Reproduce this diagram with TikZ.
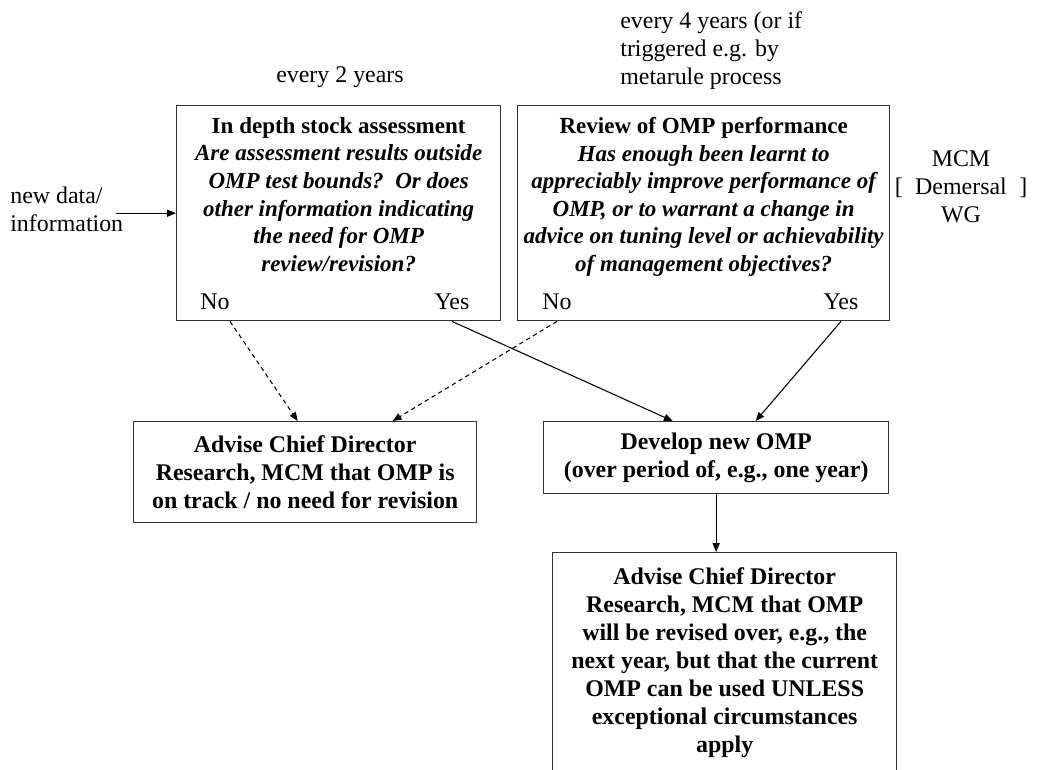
\documentclass[tikz,border=0pt]{standalone}
\usepackage{fontspec}
\setmainfont{Liberation Serif}
\usetikzlibrary{positioning,calc,arrows.meta}

\def\omptext{\fontsize{13.6}{16}\selectfont}
\def\asktext{\fontsize{13.1}{15.7}\selectfont}

\tikzset{
  box/.style={draw=black!80, line width=0.8pt, inner sep=0pt, align=center, font=\omptext\bfseries},
  txt/.style={inner sep=0pt, align=center, font=\omptext},
  ask/.style={inner sep=0pt, align=center, font=\asktext\bfseries\itshape},
  flow/.style={line width=0.6pt, ->},
  noflow/.style={line width=0.6pt, ->, dash pattern=on 2.5pt off 2pt},
  >={Triangle[length=5pt,width=4pt]}
}

\begin{document}
\begin{tikzpicture}[x=0.02cm, y=-0.02cm]

\useasboundingbox (0,0) rectangle (1051,769);
\clip (0,0) rectangle (1051,769);

% LABELS

\node[txt] (twoyears) at (340,77) {every 2 years};
\node[txt, anchor=west, align=left] (fouryears) at (620,51) {every 4 years (or if\\triggered e.g. by\\metarule process};
\node[txt, anchor=west, align=left] (newdata) at (10,209) {new data/\\information};
\node[txt] (mcm) at (961,187) {MCM\\{[}\hspace{0.25cm}Demersal\hspace{0.25cm}{]}\\WG};

% STOCK ASSESSMENT

\node[box, minimum width=6.48cm, minimum height=4.3cm, anchor=north west] (assess) at (176,105) {};
\node[ask, below=0.24cm of assess.north] (assesstxt) {{\upshape In depth stock assessment}\\
  Are assessment results outside\\OMP test bounds?\ \ Or does\\other information indicating\\
  the need for OMP\\review/revision?};
\node[txt] (no1) at (215,302) {No};
\node[txt] (yes1) at (452,302) {Yes};

% OMP REVIEW

\node[box, minimum width=7.44cm, minimum height=4.3cm, anchor=north west] (review) at (517,105) {};
\node[ask, below=0.24cm of review.north] (reviewtxt) {{\upshape Review of OMP performance}\\
  Has enough been learnt to\\appreciably improve performance of\\OMP, or to warrant a change in\\
  advice on tuning level or achievability\\of management objectives?};
\node[txt] (no2) at (557,302) {No};
\node[txt] (yes2) at (841,302) {Yes};

% OUTCOMES

\node[box, minimum width=6.86cm, minimum height=2.02cm, anchor=north west] (ontrack) at (133,421) {Advise Chief Director\\Research, MCM that OMP is\\on track / no need for revision};
\node[box, minimum width=6.9cm, minimum height=1.44cm, anchor=north west] (develop) at (543,421) {Develop new OMP\\(over period of, e.g., one year)};
\node[box, minimum width=6.88cm, minimum height=4.4cm, anchor=north west] (revise) at (552,552) {Advise Chief Director\\Research, MCM that OMP\\will be revised over, e.g., the\\
  next year, but that the current\\OMP can be used UNLESS\\exceptional circumstances\\apply};

% CONNECTORS

\draw[flow] (newdata.east |- assess.west) ++(-0.15cm,0) coordinate (newin) -- (assess.west);
\draw[noflow] (no1.south east |- assess.south) -- ([xshift=-0.15cm]ontrack.north);
\draw[noflow] (no2.south |- review.south) -- ([xshift=1.75cm]ontrack.north);
\draw[flow] (yes1.south |- assess.south) -- ([xshift=-0.87cm]develop.north);
\draw[flow] (yes2.south |- review.south) -- ([xshift=0.79cm]develop.north);
\draw[flow] (develop.south) -- (develop.south |- revise.north);

\end{tikzpicture}
\end{document}
